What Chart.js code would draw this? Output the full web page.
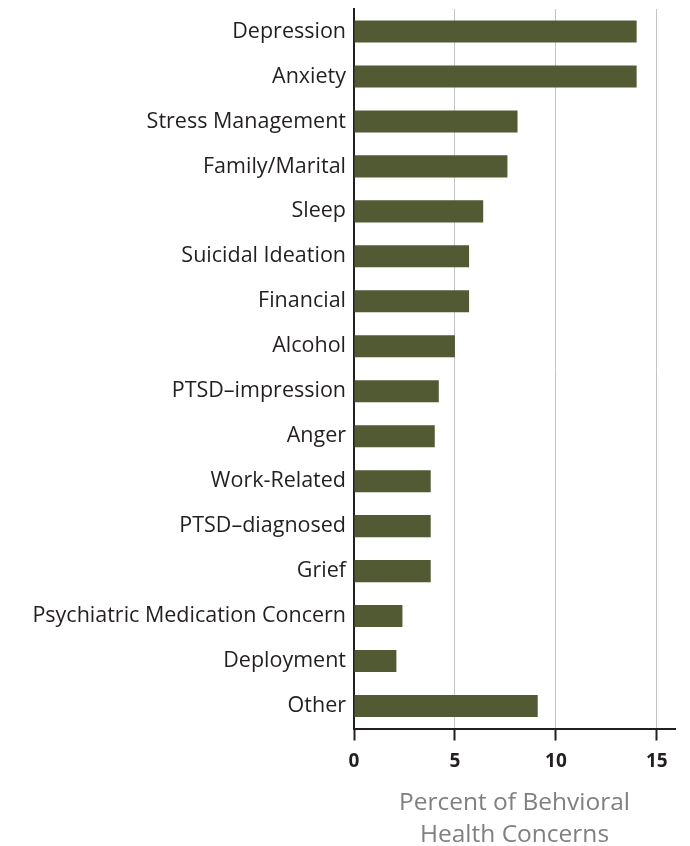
<!DOCTYPE html>
<html>
<head>
    <script src="https://cdn.jsdelivr.net/npm/chart.js@4.4.0/dist/chart.umd.min.js"></script>
    <style>
        body {
            margin: 0;
            background-color: white;
        }
        .chart-box {
            width: 690px;
            height: 846px;
        }
    </style>
</head>
<body>
    <div class="chart-box">
        <canvas id="concernChart" width="690" height="846"></canvas>
    </div>

    <script>
        // Kategori dan nilai (persen)
        const categories = ['Depression', 'Anxiety', 'Stress Management', 'Family/Marital', 'Sleep',
            'Suicidal Ideation', 'Financial', 'Alcohol', 'PTSD\u2013impression', 'Anger', 'Work-Related',
            'PTSD\u2013diagnosed', 'Grief', 'Psychiatric Medication Concern', 'Deployment', 'Other'];
        const percentValues = [14, 14, 8.1, 7.6, 6.4, 5.7, 5.7, 5.0, 4.2, 4.0, 3.8, 3.8, 3.8, 2.4, 2.1, 9.1];
        const xTickValues = [0, 5, 10, 15];
        const axisTitle = ['Percent of Behvioral', 'Health Concerns'];

        const barColor = '#525a33';
        const axisColor = '#231f20';

        new Chart(document.getElementById('concernChart'), {
            type: 'bar',
            data: {
                labels: categories,
                datasets: [{
                    data: percentValues,
                    backgroundColor: barColor,
                    barPercentage: 0.49,
                    categoryPercentage: 1.0
                }]
            },
            options: {
                indexAxis: 'y',
                responsive: false,
                animation: false,
                layout: {
                    padding: { top: 9, right: 15, bottom: -5, left: 10 }
                },
                plugins: {
                    legend: { display: false },
                    tooltip: { enabled: false }
                },
                scales: {
                    x: {
                        min: 0,
                        max: 15.9,
                        afterBuildTicks: function(axis) {
                            axis.ticks = xTickValues.map(v => ({ value: v }));
                        },
                        grid: {
                            color: ctx => ctx.tick && ctx.tick.value === 0 ? 'rgba(0,0,0,0)' : '#c4c4c4',
                            lineWidth: 1,
                            tickLength: 12,
                            tickColor: axisColor,
                            tickWidth: 2
                        },
                        border: { color: axisColor, width: 2 },
                        ticks: {
                            color: axisColor,
                            padding: 10,
                            font: { family: 'Open Sans', size: 19, weight: 'bold' }
                        },
                        title: {
                            display: true,
                            text: axisTitle,
                            color: '#808080',
                            padding: { top: 4, bottom: 0 },
                            font: { family: 'Open Sans', size: 24.5, lineHeight: 1.3 }
                        }
                    },
                    y: {
                        afterFit: function(axis) {
                            axis.width = 344;
                            axis.paddingTop = 0;
                            axis.paddingBottom = 0;
                        },
                        grid: { display: true, color: 'rgba(0,0,0,0)', drawTicks: false },
                        border: { color: axisColor, width: 2 },
                        ticks: {
                            color: axisColor,
                            padding: 8,
                            font: { family: 'Open Sans', size: 21.5 }
                        }
                    }
                }
            }
        });
    </script>
</body>
</html>
